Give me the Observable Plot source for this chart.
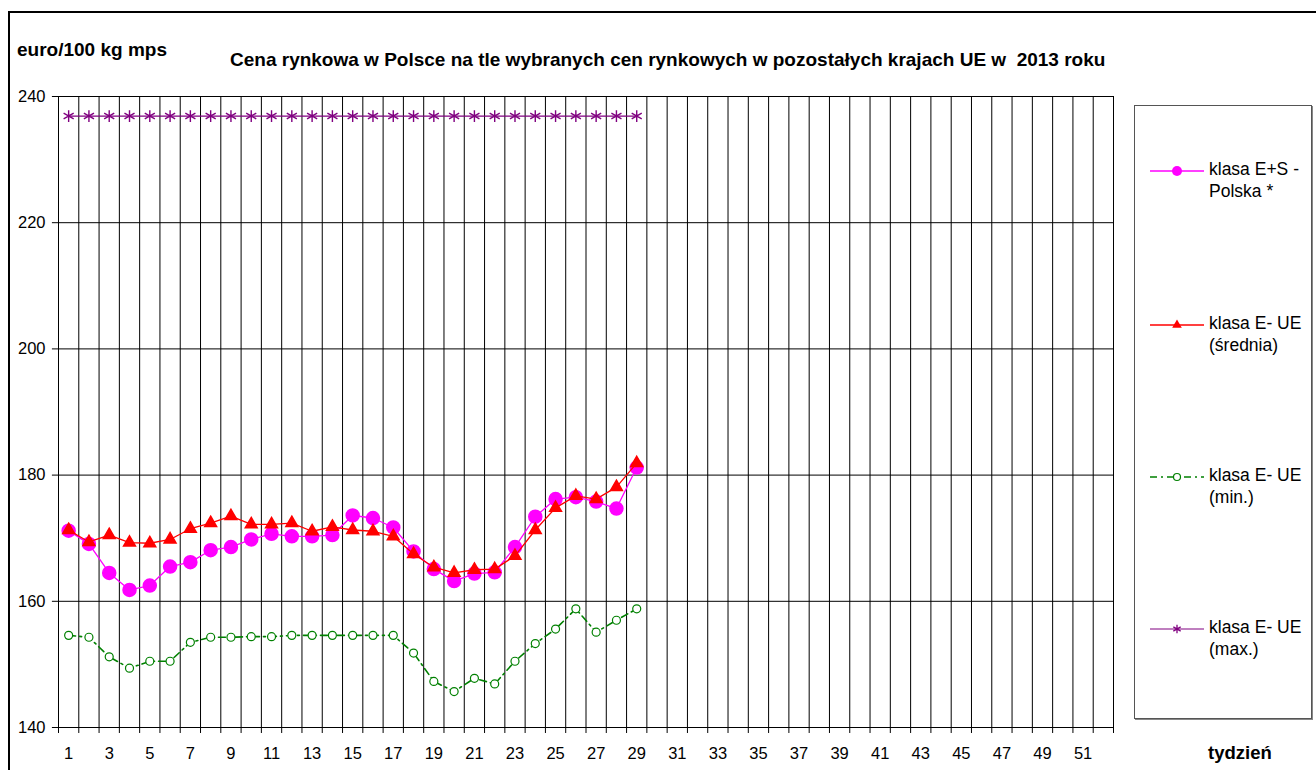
<!DOCTYPE html>
<html><head><meta charset="utf-8">
<script src="https://cdn.jsdelivr.net/npm/d3@7"></script>
<script src="https://cdn.jsdelivr.net/npm/@observablehq/plot@0.6"></script>
<style>
body{margin:0;background:#fff;font-family:"Liberation Sans",Arial,sans-serif;}
#wrap{position:relative;width:1316px;height:770px;overflow:hidden;}
#frame{position:absolute;left:8px;top:11px;width:1400px;height:800px;border-left:2.5px solid #000;border-top:2.5px solid #000;}
.t{position:absolute;font-weight:bold;color:#000;white-space:pre;line-height:19px;}
#legend{position:absolute;left:1134px;top:105px;width:176px;height:612px;border:1px solid #555;box-shadow:1px 1px 0 #888;background:#fff;}
.lt{position:absolute;left:1209px;font-size:17.5px;line-height:21.7px;color:#000;white-space:pre;}
.ls{position:absolute;left:1150px;}
#chart{position:absolute;left:0;top:0;}
</style></head>
<body><div id="wrap">
<div id="frame"></div>
<div id="legend"></div>
<div id="chart"></div>
<div class="t" style="left:17px;top:40px;font-size:19px;">euro/100 kg mps</div>
<div class="t" style="left:230px;top:50px;font-size:19px;">Cena rynkowa w Polsce na tle wybranych cen rynkowych w pozostałych krajach UE w  2013 roku</div>
<div class="t" style="left:1208px;top:743px;font-size:18.5px;">tydzień</div>
</div>
<script>
const weeks = d3.range(1, 30);
const polska = [171.2,169.1,164.5,161.8,162.5,165.5,166.2,168.1,168.6,169.8,170.7,170.3,170.3,170.5,173.6,173.2,171.7,167.9,165.1,163.2,164.4,164.6,168.6,173.4,176.2,176.5,175.8,174.7,181.2];
const ueSrednia = [171.3,169.4,170.5,169.3,169.2,169.8,171.5,172.4,173.5,172.2,172.2,172.4,171.1,171.8,171.3,171.1,170.3,167.5,165.4,164.5,165.0,165.1,167.2,171.3,174.8,176.7,176.2,178.1,181.9];
const ueMin = [154.6,154.3,151.2,149.4,150.5,150.5,153.5,154.3,154.3,154.4,154.4,154.6,154.6,154.6,154.6,154.6,154.6,151.8,147.3,145.7,147.8,146.9,150.5,153.3,155.6,158.8,155.1,157.0,158.8];
const ueMax = [236.9,236.9,236.9,236.9,236.9,236.9,236.9,236.9,236.9,236.9,236.9,236.9,236.9,236.9,236.9,236.9,236.9,236.9,236.9,236.9,236.9,236.9,236.9,236.9,236.9,236.9,236.9,236.9,236.9];
const xTickLabels = d3.range(1, 53, 2);
const yTicks = [140,160,180,200,220,240];
const legendLabels = ["klasa E+S -\nPolska *","klasa E- UE\n(średnia)","klasa E- UE\n(min.)","klasa E- UE\n(max.)"];

const toRows = arr => weeks.map((w,i)=>({w, v:arr[i]}));
const dPol = toRows(polska), dSr = toRows(ueSrednia), dMin = toRows(ueMin), dMax = toRows(ueMax);
const bounds = d3.range(0.5, 53, 1);

const cMag = "#ff00ff", cRed = "#ff0000", cGreen = "#008000", cPur = "#800080";

const plot = Plot.plot({
  width: 1316, height: 770,
  marginLeft: 58, marginRight: 203, marginTop: 96, marginBottom: 43,
  style: {fontFamily: '"Liberation Sans", Arial, sans-serif', fontSize: "16px", background: "transparent", color: "#000", overflow: "visible"},
  x: {type: "linear", domain: [0.5, 52.5], axis: null},
  y: {domain: [140, 240], axis: null},
  marks: [
    Plot.ruleX(bounds, {x: d=>d, y1: 140, y2: 240, stroke: "#000", strokeWidth: 1}),
    Plot.ruleY(yTicks, {y: d=>d, x1: 0.5, x2: 52.5, stroke: "#000", strokeWidth: 1}),
    Plot.ruleY(yTicks, {y: d=>d, x1: 0.2, x2: 0.5, stroke: "#000"}),
    Plot.text(yTicks, {y: d=>d, x: 0.5, text: d=>String(d), textAnchor: "end", dx: -13, fill: "#000", fontSize: 16.5}),
    Plot.ruleX(bounds, {x: d=>d, y1: 139.05, y2: 140, stroke: "#000"}),
    Plot.text(xTickLabels, {x: d=>d, y: 140, text: d=>String(d), dy: 26, fill: "#000", fontSize: 16.5}),
    Plot.line(dMax, {x: "w", y: "v", stroke: cPur, strokeWidth: 1.2}),
    Plot.dot(dMax, {x: "w", y: "v", symbol: "asterisk", r: 5.5, stroke: cPur, strokeWidth: 1.4}),
    Plot.line(dMin, {x: "w", y: "v", stroke: cGreen, strokeWidth: 1.6, strokeDasharray: "7,4,2,4"}),
    Plot.dot(dMin, {x: "w", y: "v", r: 4, stroke: cGreen, fill: "#fff", strokeWidth: 1.2}),
    Plot.line(dPol, {x: "w", y: "v", stroke: cMag, strokeWidth: 1.3}),
    Plot.dot(dPol, {x: "w", y: "v", r: 6.5, fill: cMag, stroke: cMag}),
    Plot.line(dSr, {x: "w", y: "v", stroke: cRed, strokeWidth: 1.3}),
    Plot.dot(dSr, {x: "w", y: "v", symbol: "triangle", r: 4.4, fill: cRed, stroke: cRed})
  ]
});
document.getElementById("chart").appendChild(plot);

// legend
const wrap = document.getElementById("wrap");
const lineYs = [171, 325, 477, 629];
const icons = [
  `<svg width="56" height="20"><line x1="0" y1="10" x2="54" y2="10" stroke="${cMag}" stroke-width="1.3"/><circle cx="27" cy="10" r="5" fill="${cMag}"/></svg>`,
  `<svg width="56" height="20"><line x1="0" y1="10" x2="54" y2="10" stroke="${cRed}" stroke-width="1.3"/><path d="${d3.symbol(d3.symbolTriangle, 40)()}" transform="translate(27,10)" fill="${cRed}"/></svg>`,
  `<svg width="56" height="20"><line x1="0" y1="10" x2="54" y2="10" stroke="${cGreen}" stroke-width="1.6" stroke-dasharray="7,4,2,4"/><circle cx="27" cy="10" r="3.5" fill="#fff" stroke="${cGreen}" stroke-width="1.2"/></svg>`,
  `<svg width="56" height="20"><line x1="0" y1="10" x2="54" y2="10" stroke="${cPur}" stroke-width="1.2"/><path d="${d3.symbol(d3.symbolAsterisk, 50)()}" transform="translate(27,10)" stroke="${cPur}" stroke-width="1.3" fill="none"/></svg>`
];
legendLabels.forEach((lab, i) => {
  const s = document.createElement("div");
  s.className = "ls";
  s.style.top = (lineYs[i] - 10) + "px";
  s.innerHTML = icons[i];
  wrap.appendChild(s);
  const t = document.createElement("div");
  t.className = "lt";
  t.style.top = (lineYs[i] + 5 - 17) + "px";
  t.textContent = lab;
  wrap.appendChild(t);
});
</script>
</body></html>
